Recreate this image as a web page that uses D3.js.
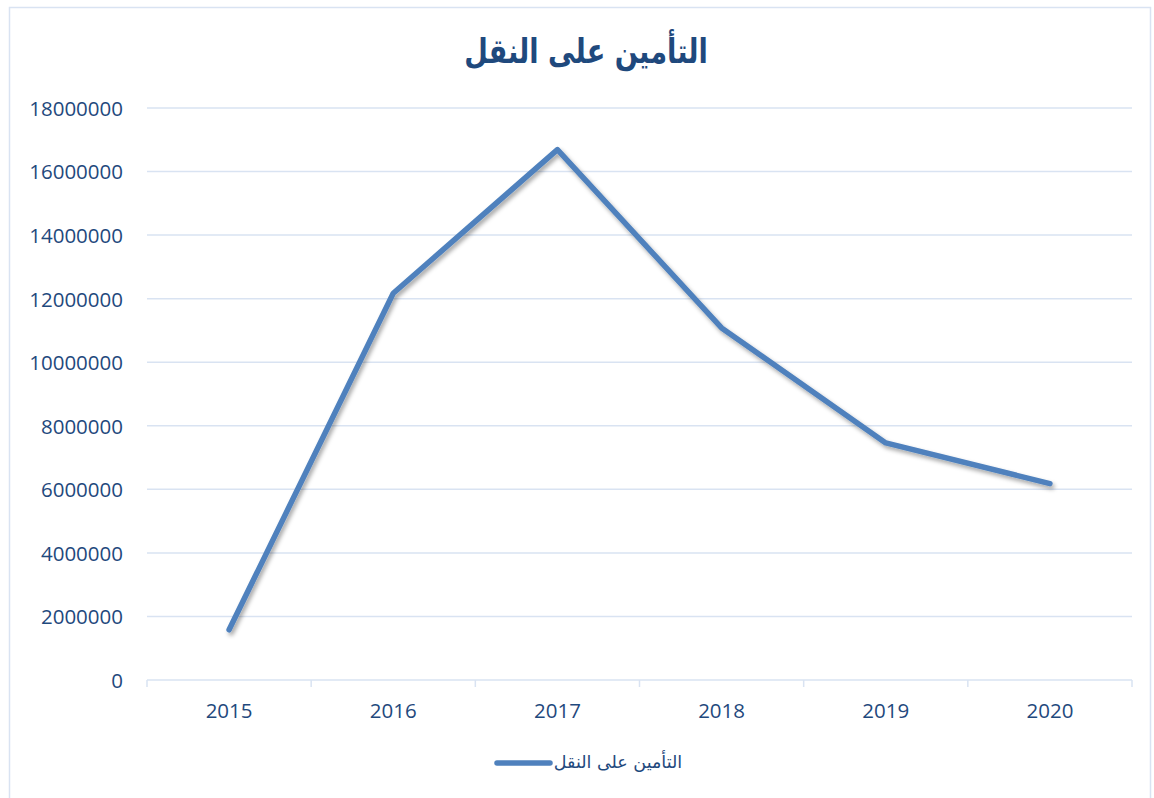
<!DOCTYPE html>
<html>
<head>
<meta charset="utf-8">
<script src="https://cdn.jsdelivr.net/npm/d3@7"></script>
<style>
  body { margin: 0; background: #fff; }
  svg { display: block; }
</style>
</head>
<body>
<svg id="chart" width="1154" height="798"></svg>
<script>
// chart data
var title = "التأمين على النقل"
var seriesName = "التأمين على النقل"
var years = ["2015", "2016", "2017", "2018", "2019", "2020"]
var values = [1580000, 12170000, 16690000, 11080000, 7460000, 6180000]
var yTicks = [0, 2000000, 4000000, 6000000, 8000000, 10000000, 12000000, 14000000, 16000000, 18000000]

var textColor = "#1f497d"
var lineColor = "#4f81bd"
var gridColor = "#d9e3f2"

var svg = d3.select("#chart")

// outer frame
svg.append("rect")
  .attr("x", 9.5).attr("y", 7.5)
  .attr("width", 1141).attr("height", 800)
  .attr("fill", "#fff")
  .attr("stroke", gridColor)
  .attr("stroke-width", 1.5)

// drop shadow for the line
var defs = svg.append("defs")
var filter = defs.append("filter").attr("id", "shadow")
  .attr("x", "-10%").attr("y", "-10%").attr("width", "120%").attr("height", "120%")
filter.append("feDropShadow")
  .attr("dx", 2).attr("dy", 3).attr("stdDeviation", 2)
  .attr("flood-color", "#000").attr("flood-opacity", 0.35)

var margin = { left: 147, right: 1132, top: 108, bottom: 680 }

var x = d3.scaleBand().domain(years).range([margin.left, margin.right])
var y = d3.scaleLinear().domain([0, 18000000]).range([margin.bottom, margin.top])

// gridlines
svg.append("g")
  .selectAll("line")
  .data(yTicks.filter(d => d > 0))
  .enter()
  .append("line")
  .attr("x1", margin.left).attr("x2", margin.right)
  .attr("y1", d => y(d)).attr("y2", d => y(d))
  .attr("stroke", gridColor)
  .attr("stroke-width", 1.5)

// y axis labels
var yAxis = svg.append("g")
  .attr("transform", "translate(" + (margin.left - 24) + ",0)")
  .call(d3.axisLeft(y).tickValues(yTicks).tickSize(0).tickPadding(0).tickFormat(d3.format("d")))
yAxis.select(".domain").remove()
yAxis.selectAll("text")
  .attr("fill", textColor)
  .attr("dy", "0.36em")
  .style("font-family", "'Open Sans', sans-serif")
  .style("font-size", "20.5px")

// x axis
var xAxis = svg.append("g")
  .attr("transform", "translate(0," + margin.bottom + ")")
  .call(d3.axisBottom(x).tickSize(0).tickPadding(23))
xAxis.select(".domain")
  .attr("stroke", gridColor)
  .attr("stroke-width", 1.5)
  .attr("d", "M" + margin.left + ",0H" + margin.right)
xAxis.selectAll("text")
  .attr("fill", textColor)
  .style("font-family", "'Open Sans', sans-serif")
  .style("font-size", "20.5px")

// band boundary ticks
var bounds = years.map(d => x(d)).concat([margin.right])
xAxis.append("g")
  .selectAll("line")
  .data(bounds)
  .enter()
  .append("line")
  .attr("x1", d => d).attr("x2", d => d)
  .attr("y1", 0).attr("y2", 7)
  .attr("stroke", gridColor)
  .attr("stroke-width", 1.5)

// the series line
var line = d3.line()
  .x((d, i) => x(years[i]) + x.bandwidth() / 2)
  .y(d => y(d))

svg.append("path")
  .datum(values)
  .attr("d", line)
  .attr("fill", "none")
  .attr("stroke", lineColor)
  .attr("stroke-width", 5.5)
  .attr("stroke-linecap", "round")
  .attr("stroke-linejoin", "round")
  .attr("filter", "url(#shadow)")

// title (condensed a bit, the original font is narrower)
svg.append("text")
  .attr("transform", "translate(586,63) scale(0.8,1)")
  .attr("text-anchor", "middle")
  .attr("direction", "rtl")
  .attr("fill", textColor)
  .style("font-family", "'DejaVu Sans', sans-serif")
  .style("font-weight", "bold")
  .style("font-size", "34px")
  .text(title)

// legend
var legend = svg.append("g")
legend.append("line")
  .attr("x1", 497).attr("x2", 550)
  .attr("y1", 763).attr("y2", 763)
  .attr("stroke", lineColor)
  .attr("stroke-width", 5.5)
  .attr("stroke-linecap", "round")
legend.append("text")
  .attr("x", 618).attr("y", 768)
  .attr("text-anchor", "middle")
  .attr("direction", "rtl")
  .attr("fill", textColor)
  .style("font-family", "'DejaVu Sans', sans-serif")
  .style("font-size", "17.5px")
  .text(seriesName)
</script>
</body>
</html>
